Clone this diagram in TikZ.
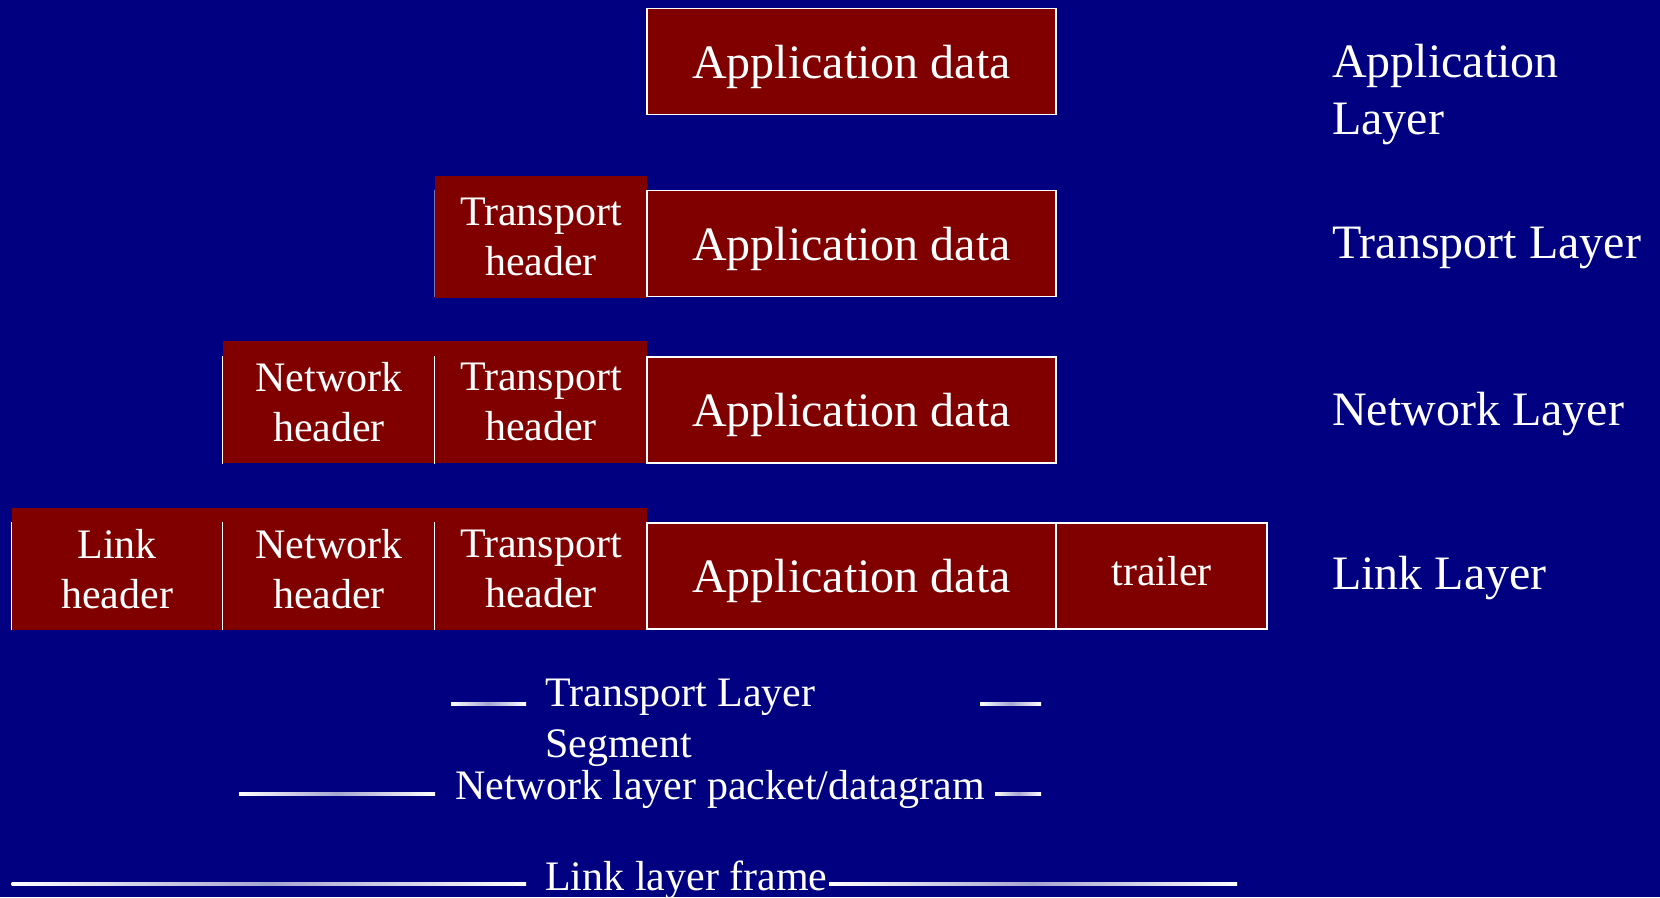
\documentclass[tikz,border=0pt]{standalone}
\usepackage{fontspec}
\setmainfont{Liberation Serif}
\definecolor{bg}{HTML}{000080}
\definecolor{boxred}{HTML}{800000}
\begin{document}
\begin{tikzpicture}[x=1pt,y=-1pt,
  bigtxt/.style={font=\fontsize{48}{57}\selectfont, text=white, inner sep=0pt},
  smalltxt/.style={font=\fontsize{42}{51}\selectfont, text=white, inner sep=0pt},
  appbox/.style={draw=white, line width=1.5pt, fill=boxred, minimum width=409pt, minimum height=106pt, inner sep=0pt,
    font=\fontsize{48}{57}\selectfont, text=white, text depth=0pt},
  hdrbox/.style={fill=boxred, minimum width=212pt, minimum height=122pt, inner sep=0pt,
    font=\fontsize{42}{50}\selectfont, text=white, align=center},
  trailbox/.style={draw=white, line width=1.5pt, fill=boxred, minimum width=211pt, minimum height=106pt, inner sep=0pt,
    font=\fontsize{42}{50}\selectfont, text=white, text depth=10pt},
  sep/.style={draw=white, line width=0.8pt},
  fadesep/.style={draw=bg!55!white, line width=0.8pt},
  bline/.style={left color=white, right color=white, middle color=bg!35!white}
]
\fill[bg] (0,0) rectangle (1660,897);
\useasboundingbox (0,0) rectangle (1660,897);

% Row 1
\node[appbox] (a1) at (851.5,61.4) {Application data};
% Row 2
\node[hdrbox] (t2) at (541,236.7) {Transport\\header};
\node[appbox] (a2) at (851.5,243.5) {Application data};
\draw[fadesep] (t2.west |- a2.north) -- (t2.west |- a2.south);
% Row 3
\node[hdrbox] (n3) at (329,402) {Network\\header};
\node[hdrbox] (t3) at (541,402) {Transport\\header};
\node[appbox] (a3) at (851.5,410) {Application data};
\draw[sep] (n3.west |- a3.north) -- (n3.west |- a3.south);
\draw[sep] (t3.west |- a3.north) -- (t3.west |- a3.south);
% Row 4
\node[hdrbox, minimum width=211.4pt] (l4) at (117.3,569) {Link\\header};
\node[hdrbox] (n4) at (329,569) {Network\\header};
\node[hdrbox] (t4) at (541,569) {Transport\\header};
\node[appbox] (a4) at (851.5,576) {Application data};
\node[trailbox] (tr4) at (1161.5,576) {trailer};
\draw[sep] (l4.west |- a4.north) -- (l4.west |- a4.south);
\draw[sep] (n4.west |- a4.north) -- (n4.west |- a4.south);
\draw[sep] (t4.west |- a4.north) -- (t4.west |- a4.south);

% Right labels
\node[bigtxt, anchor=west, align=left] (lapp) at (1332,94.5) {Application\\Layer};
\node[bigtxt, anchor=west] (ltr) at (1332,248) {Transport Layer};
\node[bigtxt, anchor=west] (lnet) at (1332,414) {Network Layer};
\node[bigtxt, anchor=west] (llink) at (1332,578.3) {Link Layer};

% Bottom labels
\node[smalltxt, anchor=west, align=left] (seg) at (545,722.5) {Transport Layer\\Segment};
\node[smalltxt, anchor=west] (dgram) at (455,789) {Network layer packet/datagram};
\node[smalltxt, anchor=west] (frame) at (545,880.5) {Link layer frame};

\coordinate (s1) at (451,704); \coordinate (s2) at (526,704);
\coordinate (s3) at (980,704); \coordinate (s4) at (1041,704);
\coordinate (d1) at (239,794); \coordinate (d2) at (435,794);
\coordinate (d3) at (995,794); \coordinate (d4) at (1041,794);
\coordinate (f1) at (11.6,884); \coordinate (f2) at (526,884);
\coordinate (f3) at (829,884); \coordinate (f4) at (1237,884);
\shade[bline] ([yshift=1.1pt]s1) rectangle ([yshift=-1.1pt]s2);
\shade[bline] ([yshift=1.1pt]s3) rectangle ([yshift=-1.1pt]s4);
\shade[bline] ([yshift=1.1pt]d1) rectangle ([yshift=-1.1pt]d2);
\shade[bline] ([yshift=1.1pt]d3) rectangle ([yshift=-1.1pt]d4);
\shade[bline] ([yshift=1.1pt]f1) rectangle ([yshift=-1.1pt]f2);
\shade[bline] ([yshift=1.1pt]f3) rectangle ([yshift=-1.1pt]f4);
\end{tikzpicture}
\end{document}
